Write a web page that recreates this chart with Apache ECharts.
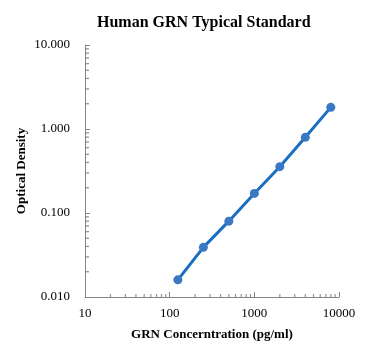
<!DOCTYPE html>
<html>
<head>
<meta charset="utf-8">
<script src="https://cdn.jsdelivr.net/npm/echarts@6/dist/echarts.min.js"></script>
<style>html,body{margin:0;padding:0;background:#fff;}#main{width:371px;height:354px;}</style>
</head>
<body>
<div id="main"></div>
<script>
var titleText = 'Human GRN Typical Standard';
var xName = 'GRN Concerntration (pg/ml)';
var yName = 'Optical Density';
var concentrations = [125, 250, 500, 1000, 2000, 4000, 8000];
var opticalDensity = [0.016, 0.039, 0.080, 0.171, 0.356, 0.796, 1.81];
var xMinorTicks = [20,30,40,50,60,70,80,90,200,300,400,500,600,700,800,900,2000,3000,4000,5000,6000,7000,8000,9000];
var yMinorTicks = [0.02,0.03,0.04,0.05,0.06,0.07,0.08,0.09,0.2,0.3,0.4,0.5,0.6,0.7,0.8,0.9,2,3,4,5,6,7,8,9];

var font = '"Liberation Serif", "Times New Roman", serif';
var axisColor = '#868686';
var chart = echarts.init(document.getElementById('main'));
chart.setOption({
  animation: false,
  title: {
    text: titleText, left: 92, top: 10,
    textStyle: { fontFamily: font, fontSize: 16, fontWeight: 'bold', color: '#000' }
  },
  grid: { left: 85, right: 32, top: 45, bottom: 57 },
  xAxis: {
    type: 'log', min: 10, max: 10000, logBase: 10,
    name: xName, nameLocation: 'middle', nameGap: 31, nameMoveOverlap: false,
    nameTextStyle: { fontFamily: font, fontSize: 13, fontWeight: 'bold', color: '#000' },
    axisLine: { lineStyle: { color: axisColor, width: 1 } },
    axisTick: { inside: true, length: 5, lineStyle: { color: axisColor } },
    axisLabel: { fontFamily: font, fontSize: 13, color: '#000', margin: 10,
      formatter: function (v) { return String(Math.round(v)); } },
    splitLine: { show: false }
  },
  yAxis: {
    type: 'log', min: 0.01, max: 10, logBase: 10,
    name: yName, nameLocation: 'middle', nameGap: 57, nameMoveOverlap: false,
    nameTextStyle: { fontFamily: font, fontSize: 13, fontWeight: 'bold', color: '#000' },
    axisLine: { show: true, lineStyle: { color: axisColor, width: 1 } },
    axisTick: { show: true, inside: true, length: 5, lineStyle: { color: axisColor } },
    axisLabel: { fontFamily: font, fontSize: 13, color: '#000', margin: 15,
      formatter: function (v) { return Number(v).toFixed(3); } },
    splitLine: { show: false }
  },
  series: [
    {
      type: 'scatter', silent: true, clip: false, z: 1,
      data: xMinorTicks.map(function (v) { return [v, 0.01]; }),
      symbol: 'rect', symbolSize: [1.2, 3], symbolOffset: [0, -1.5],
      itemStyle: { color: '#7a7a7a' }
    },
    {
      type: 'scatter', silent: true, clip: false, z: 1,
      data: yMinorTicks.map(function (v) { return [10, v]; }),
      symbol: 'rect', symbolSize: [4, 1.3], symbolOffset: [2, 0],
      itemStyle: { color: '#7a7a7a' }
    },
    {
      type: 'line', z: 3,
      data: concentrations.map(function (c, i) { return [c, opticalDensity[i]]; }),
      symbol: 'circle', symbolSize: 9,
      lineStyle: { color: '#1a6fc0', width: 3 },
      itemStyle: { color: '#3a78c3' }
    }
  ]
});
</script>
</body>
</html>
